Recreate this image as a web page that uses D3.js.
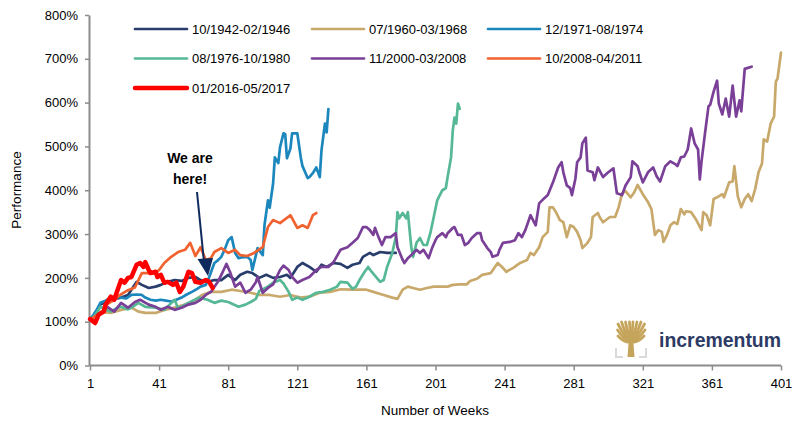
<!DOCTYPE html>
<html>
<head>
<meta charset="utf-8">
<script src="https://cdn.jsdelivr.net/npm/d3@7"></script>
<style>
  html, body { margin: 0; padding: 0; background: #fff; }
  svg { display: block; font-family: "Liberation Sans", Arial, sans-serif; }
</style>
</head>
<body>
<svg id="chart" width="799" height="421"></svg>
<script>
// ---------- DATA (week number, performance in %) ----------
const seriesNames = ["10/1942-02/1946", "07/1960-03/1968", "12/1971-08/1974",
  "08/1976-10/1980", "11/2000-03/2008", "10/2008-04/2011", "01/2016-05/2017"];

const navyWeeks = [1,4,7,13,19,23,28,31,35,39,42,46,50,54,58,62,65,69,73,77,81,85,88,92,95,99,103,107,111,115,117,121,124,128,132,135,138,142,146,150,153,157,159,163,165,169,173,178];
const navyVals  = [105,118,139,150,155,161,191,184,177,180,184,191,195,193,200,202,195,191,195,195,207,195,207,214,211,200,207,200,202,207,200,225,234,225,214,230,225,234,232,223,230,234,248,257,252,259,257,257];

const goldWeeks = [1,7,13,19,25,29,33,39,44,50,56,62,66,71,77,83,88,94,99,105,111,117,123,128,134,140,146,152,157,161,165,171,176,179,182,185,188,192,196,200,204,208,211,215,219,221,225,228,233,237,240,242,246,250,254,256,258,260,261,263,266,267,269,271,273,275,277,279,281,283,285,286,289,291,292,295,296,298,301,302,305,307,309,311,314,316,318,321,324,326,328,330,332,333,335,337,339,341,343,345,346,349,352,355,356,358,360,362,365,367,368,371,373,374,376,378,380,382,384,386,388,390,391,393,395,397,398,399,401];
const goldVals  = [105,123,120,127,132,123,120,120,127,132,139,150,161,168,168,173,170,166,161,161,157,161,155,157,166,168,174,173,173,173,168,161,155,152,173,180,177,173,177,180,180,180,184,185,185,193,198,207,211,234,223,214,223,234,241,257,252,264,270,293,305,361,361,348,332,327,293,320,316,305,286,268,280,293,339,348,339,327,336,339,339,361,393,398,384,395,412,391,373,357,298,309,305,282,298,320,327,323,357,345,352,350,332,309,350,343,320,380,386,391,384,418,420,455,386,361,380,391,375,402,441,461,516,511,552,568,648,655,714];

const blueWeeks = [1,3,5,7,10,13,16,19,22,25,28,31,33,36,39,42,45,48,51,54,57,60,63,65,68,69,73,75,77,79,81,83,85,87,89,92,94,95,98,101,102,104,105,107,108,110,111,113,114,115,117,118,121,123,124,127,128,130,132,134,135,137,138,139];
const blueVals  = [105,116,128,143,148,155,158,155,153,161,162,161,155,150,148,150,148,146,150,155,162,168,175,180,184,191,234,240,248,265,286,293,257,245,247,248,241,218,268,252,320,377,360,416,475,462,498,530,528,473,495,530,530,475,455,428,430,439,452,430,491,552,532,585];

const greenWeeks = [1,4,7,10,13,16,19,23,25,29,33,39,44,50,52,58,64,69,73,77,81,87,91,94,97,99,104,107,111,113,116,118,121,124,128,132,136,140,144,146,150,153,155,157,160,162,164,167,169,171,173,176,178,179,180,182,184,185,186,187,188,190,192,194,196,198,200,202,204,205,207,208,210,211,212,213,214,215];
const greenVals  = [105,115,134,128,123,130,134,128,132,143,134,132,127,150,130,143,155,150,143,148,145,134,139,145,152,170,180,189,195,187,168,150,155,150,157,166,168,173,180,191,189,175,180,195,214,225,214,200,191,195,225,257,293,350,336,348,336,350,309,270,248,280,291,275,275,302,339,377,393,400,405,430,475,536,566,552,598,586];

const purpleWeeks = [1,4,7,11,15,19,23,27,30,35,39,42,46,50,54,58,62,65,68,71,75,78,80,82,85,88,91,94,97,98,101,104,107,111,113,116,118,121,124,128,132,135,139,142,146,150,153,156,159,161,163,165,166,168,170,172,175,178,179,182,183,185,187,190,192,194,197,199,201,202,205,207,208,211,212,214,216,218,220,222,225,227,228,231,233,234,237,238,240,244,247,249,251,253,256,259,261,264,266,269,272,274,275,277,279,280,282,283,285,286,288,289,292,293,295,298,301,304,306,309,311,314,315,318,319,321,324,327,329,331,334,337,340,341,343,345,347,349,351,353,354,355,357,359,360,362,364,365,367,369,371,373,375,377,378,380,384];
const purpleVals  = [105,112,120,134,123,143,132,145,150,139,134,127,134,127,132,139,143,150,161,168,191,215,232,214,180,189,166,173,190,202,166,177,185,218,228,218,202,189,195,202,218,225,225,236,264,270,280,291,316,316,309,298,314,293,275,293,293,302,270,241,234,245,252,264,257,264,245,268,286,293,302,293,302,314,316,298,298,275,280,291,302,302,286,268,259,248,252,264,280,282,286,302,293,309,343,320,370,382,389,418,452,464,441,411,405,389,427,464,475,507,520,445,441,423,452,430,441,450,393,389,411,430,466,455,441,418,441,452,432,420,455,466,459,455,475,477,493,541,507,493,425,466,530,591,595,625,650,598,573,609,568,639,568,605,580,677,682];

const orangeWeeks = [1,4,7,11,15,18,23,27,31,35,39,41,44,48,52,56,59,62,65,68,71,73,77,81,85,88,92,96,101,104,107,111,117,121,124,127,130,132];
const orangeVals  = [105,112,118,140,150,160,172,178,211,211,211,218,234,248,259,264,280,250,270,241,245,259,268,257,264,252,250,257,270,316,332,325,343,314,320,314,343,348];

const redWeeks = [1,3,4,6,9,10,13,15,17,19,21,23,25,28,30,32,33,35,36,39,40,42,44,46,49,51,53,55,58,60,62,65,68,70,72];
const redVals  = [106,100,97,116,123,139,157,150,173,195,189,200,202,230,234,225,236,218,211,214,202,207,189,191,184,189,168,180,214,211,191,189,195,191,177];

const xTicks = [1, 41, 81, 121, 161, 201, 241, 281, 321, 361, 401];
const yTicks = [0, 100, 200, 300, 400, 500, 600, 700, 800];

const seriesWeeks = [navyWeeks, goldWeeks, blueWeeks, greenWeeks, purpleWeeks, orangeWeeks, redWeeks];
const seriesVals  = [navyVals, goldVals, blueVals, greenVals, purpleVals, orangeVals, redVals];

// ---------- STYLE ----------
const colors = ["#283d6c", "#c8a96b", "#1c87bd", "#56b895", "#7a4098", "#f0622f", "#ff0000"];
const widths = [2.7, 2.7, 2.7, 2.7, 2.7, 2.7, 4.5];

// ---------- DRAW ----------
const svg = d3.select("#chart");
const x = d3.scaleLinear().domain([1, 401]).range([90, 781]);
const y = d3.scaleLinear().domain([0, 800]).range([365.5, 15]);
const axisColor = "#8c8c8c";

const yAxis = svg.append("g").attr("transform", "translate(89,0)")
  .call(d3.axisLeft(y).tickValues(yTicks).tickFormat(d => d + "%").tickSize(4).tickSizeOuter(0).tickPadding(7));
const xAxis = svg.append("g").attr("transform", "translate(0,365.5)")
  .call(d3.axisBottom(x).tickValues(xTicks).tickSize(5).tickSizeOuter(0).tickPadding(8));
[yAxis, xAxis].forEach(g => {
  g.select(".domain").attr("stroke", axisColor).attr("stroke-width", 2);
  g.selectAll(".tick line").attr("stroke", axisColor).attr("stroke-width", 1.5);
  g.selectAll(".tick text").attr("fill", "#000").style("font-size", "13px")
    .style("font-family", '"Liberation Sans", Arial, sans-serif');
});
xAxis.select(".domain").attr("d", "M89,0H781");

svg.append("text").attr("x", 435).attr("y", 415).attr("text-anchor", "middle")
  .style("font-size", "13.5px").text("Number of Weeks");
svg.append("text").attr("transform", "translate(21,190) rotate(-90)").attr("text-anchor", "middle")
  .style("font-size", "13.5px").text("Performance");

const line = d3.line().x(d => x(d[0])).y(d => y(d[1]));
const plot = svg.append("g");
seriesVals.forEach((vals, i) => {
  const pts = vals.map((v, k) => [seriesWeeks[i][k], v]);
  plot.append("path").datum(pts)
    .attr("d", line)
    .attr("fill", "none")
    .attr("stroke", colors[i])
    .attr("stroke-width", widths[i])
    .attr("stroke-linejoin", "round")
    .attr("stroke-linecap", "round");
});

// legend
const legCols = [135, 312, 488];
const legRows = [29, 58.5, 88];
seriesNames.forEach((name, i) => {
  const cx = legCols[i % 3], cy = legRows[Math.floor(i / 3)];
  const g = svg.append("g");
  g.append("line").attr("x1", cx).attr("x2", cx + 52).attr("y1", cy).attr("y2", cy)
    .attr("stroke", colors[i]).attr("stroke-width", i === 6 ? 4.5 : 2.7).attr("stroke-linecap", "round");
  g.append("text").attr("x", cx + 57).attr("y", cy + 4.8).style("font-size", "13px").attr("fill", "#000").text(name);
});

// annotation
svg.append("text").attr("x", 190).attr("y", 163).attr("text-anchor", "middle")
  .style("font-size", "14px").style("font-weight", "bold").text("We are");
svg.append("text").attr("x", 190).attr("y", 184).attr("text-anchor", "middle")
  .style("font-size", "14px").style("font-weight", "bold").text("here!");
svg.append("line").attr("x1", 197).attr("y1", 192).attr("x2", 204).attr("y2", 262)
  .attr("stroke", "#0f2a5c").attr("stroke-width", 2);
svg.append("path").attr("d", "M197.5,259 L213,258 L208,276 Z").attr("fill", "#0f2a5c");

// logo
const logo = svg.append("g");
const gold = "#c5a55c";
logo.append("path").attr("d", "M616,348 V357 H623 M646,348 V357 H639")
  .attr("fill", "none").attr("stroke", "#dadada").attr("stroke-width", 2);
logo.append("path").attr("d", "M627.5,357 L629,337 L633,337 L634.5,357 Z").attr("fill", gold);
const branches = [[618,324],[621.5,322],[625.5,322],[629.5,322],[633,322],[637,322],[641,322],[644.5,324],
  [617.5,330],[645,330],[618,336],[644,336]];
branches.forEach(b => {
  logo.append("path").attr("d", `M631,342 Q${(631 + b[0]) / 2},${(342 + b[1]) / 2 + 4} ${b[0]},${b[1]}`)
    .attr("fill", "none").attr("stroke", gold).attr("stroke-width", 2.8).attr("stroke-linecap", "round");
});
logo.append("text").attr("x", 659).attr("y", 347).attr("textLength", 122)
  .attr("lengthAdjust", "spacingAndGlyphs")
  .style("font-size", "21px").style("font-weight", "bold").attr("fill", "#2c3a64").text("incrementum");
</script>
</body>
</html>
